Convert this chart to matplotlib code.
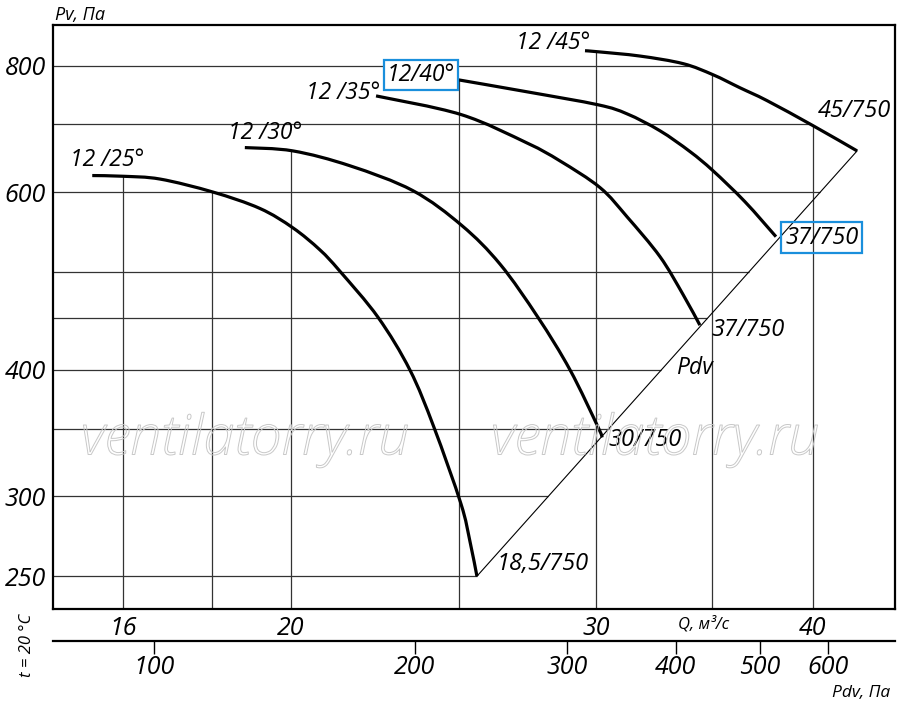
import numpy as np
import matplotlib
matplotlib.use("Agg")
import matplotlib.pyplot as plt
import matplotlib.patheffects as pe
from matplotlib.path import Path
from matplotlib.patches import PathPatch
from matplotlib.ticker import FixedLocator, FixedFormatter, NullLocator

plt.rcParams['font.family'] = ['Open Sans', 'DejaVu Sans']
plt.rcParams['font.style'] = 'italic'

# fan curves: Q, м³/с  ->  Pv, Па   (blade angle 25..45°)
q_25 = [15.36, 16.0, 16.81, 18.03, 19.19, 20.05, 20.78, 21.34, 22.45, 23.42, 24.18, 25.06, 25.36, 25.6]
p_25 = [623, 622, 618, 600, 578, 553, 526, 501, 451, 400, 351, 295, 271, 250]
q_30 = [18.81, 20.05, 21.63, 23.51, 25.09, 26.4, 27.76, 28.97, 30.07, 30.23]
p_30 = [664, 659, 637, 602, 556, 509, 451, 400, 351, 343]
q_35 = [22.39, 25.06, 27.36, 28.59, 30.15, 31.25, 32.64, 33.66, 34.42]
p_35 = [747, 716, 671, 644, 606, 567, 518, 475, 443]
q_40 = [24.96, 27.36, 30.07, 31.25, 32.64, 33.97, 35.02, 36.54, 38.08]
p_40 = [775, 754, 732, 717, 690, 658, 630, 587, 542]
q_45 = [29.55, 30.07, 31.79, 33.66, 35.02, 36.3, 37.63, 40.0, 42.41]
p_45 = [828, 826, 818, 804, 784, 761, 739, 698, 659]

curves_q = [q_25, q_30, q_35, q_40, q_45]
curves_p = [p_25, p_30, p_35, p_40, p_45]
start_labels = ["12 /25°", "12 /30°", "12 /35°", "12/40°", "12 /45°"]
end_labels = ["18,5/750", "30/750", "37/750", "37/750", "45/750"]
boxed = [False, False, False, True, False]

q_grid = [16, 18, 20, 25, 30, 35, 40]
p_grid = [250, 300, 350, 400, 450, 500, 600, 700, 800]
q_ticks = [16, 20, 30, 40]
p_ticks = [250, 300, 400, 600, 800]
pdv_ticks = [100, 200, 300, 400, 500, 600]
k_dyn = 0.36   # Pdv = k * Q^2

# offsets (points) and alignment for labels
start_off = [((10.8, 11.5), 'center'), ((14.4, 10.8), 'center'), ((2.9, 2.2), 'right'),
             ((-2.2, 3.6), 'right'), ((3.6, 5.8), 'right')]
end_off = [((14.4, 8.6), 'left'), ((4.3, -2.2), 'left'), ((8.6, -3.6), 'left'),
           ((6.5, -0.7), 'left'), ((-2.2, 28.8), 'center')]

blue = '#1a8fdc'


def smooth_path(q, p):
    # catmull-rom through the read points, done in log space
    pts = np.column_stack([np.log10(q), np.log10(p)])
    n = len(pts)
    verts = [pts[0]]
    codes = [Path.MOVETO]
    for i in range(n - 1):
        p0 = pts[max(i - 1, 0)]
        p1 = pts[i]
        p2 = pts[i + 1]
        p3 = pts[min(i + 2, n - 1)]
        verts += [p1 + (p2 - p0) / 6, p2 - (p3 - p1) / 6, p2]
        codes += [Path.CURVE4] * 3
    return Path(10 ** np.array(verts), codes)


fig = plt.figure(figsize=(9, 7.17), dpi=100)
ax = fig.add_axes([53 / 900, 1 - 609 / 717, 842 / 900, 584 / 717])
ax.set_xscale('log')
ax.set_yscale('log')
xlim = (14.58, 44.6)
ylim = (232.0, 878.0)
ax.set_xlim(*xlim)
ax.set_ylim(*ylim)

# grid lines, clipped to the working area of the chart
bq = np.log10([q_25[-1]] + q_45[::-1])
bp = np.log10([p_25[-1]] + p_45[::-1])
for p in p_grid:
    qlim = 10 ** np.interp(np.log10(p), bp, bq)
    ax.hlines(p, xlim[0], qlim, color='#333333', lw=0.9, zorder=1)
for q in q_grid:
    tops = []
    for cq, cp in zip(curves_q, curves_p):
        if cq[0] <= q <= cq[-1]:
            tops.append(10 ** np.interp(np.log10(q), np.log10(cq), np.log10(cp)))
    ax.vlines(q, ylim[0], max(tops), color='#333333', lw=0.9, zorder=1)

# watermark
for xw in (245 / 900, 655 / 900):
    fig.text(xw, 1 - 440 / 717, "ventilatorry.ru", fontsize=40, color='none',
             family=['Open Sans', 'DejaVu Sans'], style='italic', weight='light',
             ha='center', va='center', zorder=1.5,
             path_effects=[pe.Stroke(linewidth=0.7, foreground='#c8c8c8')])

# Pdv line through the curve ends
ax.plot([q_25[-1], q_45[-1]], [p_25[-1], p_45[-1]], color='black', lw=0.8, zorder=2)
ax.text(34.15, 402, "Pdv", fontsize=16.5, ha='center', va='center', zorder=4)

for i in range(5):
    ax.add_patch(PathPatch(smooth_path(curves_q[i], curves_p[i]), fc='none',
                           ec='black', lw=2.3, capstyle='butt', zorder=3))
    (dx, dy), ha = start_off[i]
    bb = None
    if boxed[i]:
        bb = dict(boxstyle='square,pad=0.12', fc='white', ec=blue, lw=1.6)
    ax.annotate(start_labels[i], (curves_q[i][0], curves_p[i][0]), xytext=(dx, dy),
                textcoords='offset points', ha=ha, va='center', fontsize=16.5,
                zorder=4, bbox=bb)
    (dx, dy), ha = end_off[i]
    bb = None
    if boxed[i]:
        bb = dict(boxstyle='square,pad=0.15', fc='none', ec=blue, lw=1.6)
    ax.annotate(end_labels[i], (curves_q[i][-1], curves_p[i][-1]), xytext=(dx, dy),
                textcoords='offset points', ha=ha, va='center', fontsize=17,
                zorder=4, bbox=bb)

# axes styling
for s in ax.spines.values():
    s.set_linewidth(1.6)
ax.xaxis.set_major_locator(FixedLocator(q_ticks))
ax.xaxis.set_major_formatter(FixedFormatter([str(v) for v in q_ticks]))
ax.xaxis.set_minor_locator(NullLocator())
ax.yaxis.set_major_locator(FixedLocator(p_ticks))
ax.yaxis.set_major_formatter(FixedFormatter([str(v) for v in p_ticks]))
ax.yaxis.set_minor_locator(NullLocator())
ax.tick_params(axis='both', length=0, labelsize=18, pad=5)

# dynamic pressure scale
sec = ax.secondary_xaxis(-0.0548, functions=(lambda q: k_dyn * np.asarray(q) ** 2,
                                              lambda p: np.sqrt(np.abs(p) / k_dyn)))
sec.xaxis.set_major_locator(FixedLocator(pdv_ticks))
sec.xaxis.set_major_formatter(FixedFormatter([str(v) for v in pdv_ticks]))
sec.xaxis.set_minor_locator(NullLocator())
sec.spines['bottom'].set_linewidth(1.6)
sec.tick_params(axis='x', direction='out', length=9, width=1, labelsize=18, pad=1)

fig.text(55 / 900, 1 - 15 / 717, "Pv, Па", fontsize=13, ha='left', va='center')
fig.text(890 / 900, 1 - 693 / 717, "Pdv, Па", fontsize=12.5, ha='right', va='center')
fig.text(704 / 900, 1 - 624 / 717, "Q, м³/с", fontsize=12, ha='center', va='center')
fig.text(27 / 900, 1 - 645 / 717, "t = 20 °C", fontsize=12, rotation=90,
         ha='center', va='center')

fig.savefig("out.png", dpi=100)
